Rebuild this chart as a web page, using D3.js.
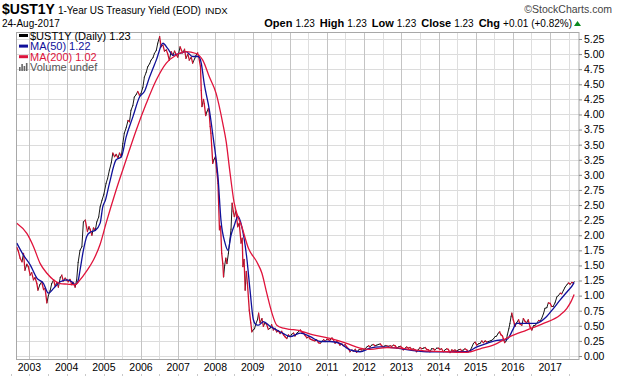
<!DOCTYPE html>
<html>
<head>
<meta charset="utf-8">
<script src="https://cdn.jsdelivr.net/npm/d3@7"></script>
<style>
  body { margin: 0; background: #fff; }
  text { font-family: "Liberation Sans", Arial, sans-serif; }
</style>
</head>
<body>
<div id="chart"></div>
<script>
// daily 1-year yield (decimal year, percent)
var priceYears = [2002.66,2002.70,2002.75,2002.80,2002.84,2002.88,2002.93,2002.97,2003.02,2003.06,2003.11,2003.15,2003.20,2003.23,2003.28,2003.33,2003.38,2003.42,2003.47,2003.51,2003.56,2003.60,2003.65,2003.69,2003.74,2003.78,2003.83,2003.87,2003.91,2003.96,2004.00,2004.05,2004.09,2004.14,2004.18,2004.23,2004.27,2004.31,2004.36,2004.41,2004.45,2004.50,2004.56,2004.60,2004.63,2004.68,2004.72,2004.77,2004.81,2004.86,2004.90,2004.95,2005.00,2005.06,2005.10,2005.15,2005.20,2005.24,2005.29,2005.33,2005.38,2005.42,2005.47,2005.51,2005.55,2005.60,2005.65,2005.69,2005.73,2005.78,2005.82,2005.87,2005.91,2005.96,2006.00,2006.05,2006.09,2006.14,2006.18,2006.23,2006.27,2006.32,2006.36,2006.41,2006.45,2006.50,2006.54,2006.59,2006.63,2006.68,2006.72,2006.76,2006.81,2006.86,2006.90,2006.94,2006.99,2007.05,2007.09,2007.12,2007.17,2007.21,2007.26,2007.30,2007.35,2007.39,2007.44,2007.48,2007.52,2007.55,2007.60,2007.62,2007.64,2007.68,2007.70,2007.74,2007.77,2007.81,2007.83,2007.86,2007.88,2007.93,2007.96,2008.00,2008.04,2008.07,2008.11,2008.14,2008.17,2008.20,2008.22,2008.25,2008.28,2008.31,2008.35,2008.38,2008.42,2008.45,2008.48,2008.51,2008.55,2008.60,2008.64,2008.69,2008.72,2008.74,2008.77,2008.80,2008.83,2008.86,2008.91,2008.95,2008.98,2009.01,2009.05,2009.09,2009.13,2009.16,2009.20,2009.25,2009.29,2009.33,2009.38,2009.42,2009.47,2009.51,2009.56,2009.60,2009.65,2009.69,2009.74,2009.78,2009.83,2009.87,2009.92,2009.96,2010.01,2010.05,2010.10,2010.14,2010.19,2010.23,2010.28,2010.32,2010.37,2010.41,2010.46,2010.50,2010.55,2010.59,2010.63,2010.68,2010.72,2010.77,2010.82,2010.86,2010.91,2010.95,2011.00,2011.04,2011.08,2011.13,2011.17,2011.22,2011.26,2011.31,2011.35,2011.40,2011.44,2011.49,2011.53,2011.58,2011.62,2011.67,2011.71,2011.76,2011.80,2011.85,2011.89,2011.93,2011.98,2012.03,2012.07,2012.12,2012.16,2012.20,2012.25,2012.29,2012.34,2012.38,2012.43,2012.47,2012.52,2012.56,2012.61,2012.65,2012.70,2012.74,2012.79,2012.83,2012.88,2012.92,2012.97,2013.01,2013.05,2013.10,2013.14,2013.19,2013.23,2013.28,2013.32,2013.37,2013.41,2013.46,2013.50,2013.55,2013.59,2013.64,2013.68,2013.73,2013.77,2013.81,2013.86,2013.90,2013.95,2013.99,2014.04,2014.08,2014.13,2014.17,2014.22,2014.26,2014.31,2014.35,2014.40,2014.44,2014.49,2014.53,2014.58,2014.62,2014.67,2014.71,2014.76,2014.80,2014.85,2014.89,2014.94,2014.98,2015.03,2015.07,2015.12,2015.16,2015.21,2015.25,2015.30,2015.34,2015.39,2015.43,2015.47,2015.52,2015.56,2015.61,2015.64,2015.68,2015.72,2015.74,2015.78,2015.82,2015.85,2015.89,2015.92,2015.95,2015.97,2016.01,2016.06,2016.10,2016.15,2016.19,2016.24,2016.28,2016.33,2016.37,2016.41,2016.46,2016.51,2016.55,2016.60,2016.64,2016.69,2016.73,2016.77,2016.82,2016.86,2016.91,2016.95,2017.00,2017.04,2017.08,2017.13,2017.18,2017.22,2017.27,2017.31,2017.36,2017.40,2017.45,2017.49,2017.54,2017.58,2017.62,2017.645];
var priceValues = [1.80,1.74,1.62,1.56,1.70,1.42,1.52,1.48,1.34,1.38,1.26,1.30,1.20,1.09,1.18,1.23,1.10,1.12,0.88,1.00,1.09,1.20,1.26,1.16,1.22,1.14,1.30,1.34,1.24,1.29,1.26,1.23,1.27,1.18,1.22,1.14,1.26,1.55,1.75,1.81,2.22,2.25,2.06,2.14,2.10,2.00,2.12,2.08,2.22,2.30,2.47,2.58,2.68,2.86,2.94,3.08,3.20,3.36,3.30,3.34,3.28,3.36,3.30,3.52,3.69,3.78,3.90,3.88,4.07,4.15,4.29,4.33,4.38,4.32,4.35,4.45,4.62,4.70,4.79,4.84,4.90,4.94,5.01,5.06,5.18,5.29,5.12,5.15,5.05,5.07,5.00,4.90,5.04,4.98,5.05,5.00,4.95,5.12,5.06,5.02,5.08,4.93,5.00,4.90,4.95,4.85,4.92,4.98,5.02,4.96,4.79,4.40,4.13,4.25,4.18,3.98,4.04,4.10,4.05,3.80,3.69,3.19,3.25,3.30,3.05,2.86,2.09,2.15,1.70,1.53,1.31,1.50,1.62,1.53,1.70,1.87,2.10,2.53,2.40,2.31,2.40,2.14,2.20,1.87,1.95,1.48,1.60,1.09,1.40,1.20,0.76,0.55,0.40,0.43,0.45,0.54,0.60,0.71,0.55,0.62,0.49,0.55,0.52,0.44,0.46,0.52,0.43,0.46,0.40,0.42,0.37,0.41,0.35,0.32,0.29,0.35,0.32,0.36,0.38,0.33,0.38,0.40,0.43,0.40,0.38,0.34,0.30,0.32,0.28,0.27,0.26,0.25,0.27,0.22,0.21,0.24,0.27,0.24,0.28,0.27,0.26,0.30,0.27,0.21,0.25,0.22,0.18,0.20,0.17,0.19,0.15,0.12,0.07,0.10,0.08,0.11,0.06,0.10,0.11,0.10,0.10,0.12,0.15,0.17,0.15,0.18,0.19,0.17,0.18,0.19,0.20,0.17,0.15,0.17,0.17,0.16,0.17,0.16,0.18,0.17,0.13,0.15,0.16,0.14,0.10,0.13,0.15,0.13,0.14,0.11,0.12,0.10,0.07,0.11,0.14,0.12,0.13,0.14,0.11,0.10,0.07,0.12,0.12,0.10,0.13,0.13,0.11,0.12,0.07,0.10,0.12,0.11,0.055,0.10,0.09,0.10,0.08,0.10,0.11,0.09,0.10,0.12,0.10,0.07,0.09,0.14,0.21,0.23,0.18,0.20,0.21,0.25,0.22,0.25,0.23,0.24,0.25,0.26,0.28,0.32,0.33,0.38,0.40,0.35,0.33,0.29,0.22,0.25,0.35,0.45,0.54,0.65,0.71,0.60,0.49,0.55,0.60,0.53,0.51,0.62,0.57,0.55,0.60,0.48,0.43,0.50,0.51,0.54,0.59,0.58,0.62,0.70,0.79,0.80,0.88,0.87,0.82,0.82,0.88,0.98,1.00,1.04,1.03,1.09,1.14,1.18,1.21,1.19,1.22,1.21,1.23];

var ma50Years = [2002.66,2002.84,2003.02,2003.20,2003.38,2003.51,2003.65,2003.83,2004.01,2004.14,2004.23,2004.31,2004.36,2004.45,2004.54,2004.63,2004.77,2004.90,2004.97,2005.04,2005.15,2005.33,2005.47,2005.60,2005.78,2005.96,2006.09,2006.23,2006.41,2006.59,2006.72,2006.86,2007.03,2007.21,2007.39,2007.55,2007.62,2007.70,2007.84,2007.95,2008.07,2008.15,2008.26,2008.34,2008.42,2008.50,2008.61,2008.71,2008.84,2008.93,2009.02,2009.09,2009.16,2009.29,2009.47,2009.65,2009.83,2010.01,2010.28,2010.55,2010.82,2011.08,2011.35,2011.62,2011.89,2012.16,2012.43,2012.88,2013.32,2013.77,2014.22,2014.76,2015.03,2015.30,2015.57,2015.83,2016.01,2016.09,2016.36,2016.63,2016.90,2017.09,2017.27,2017.45,2017.62,2017.645];
var ma50Values = [1.87,1.67,1.51,1.29,1.20,1.04,1.12,1.23,1.26,1.23,1.18,1.25,1.42,1.75,1.98,2.05,2.08,2.20,2.47,2.58,2.86,3.25,3.30,3.63,3.96,4.29,4.38,4.62,4.90,5.18,5.09,4.98,5.01,5.04,4.96,4.96,4.85,4.51,4.07,3.58,2.97,2.25,1.87,1.75,2.00,2.15,2.31,2.14,1.64,1.09,0.60,0.52,0.51,0.57,0.49,0.43,0.37,0.32,0.38,0.32,0.24,0.24,0.21,0.10,0.07,0.13,0.15,0.13,0.09,0.07,0.07,0.07,0.15,0.21,0.26,0.27,0.45,0.54,0.54,0.54,0.65,0.79,0.93,1.06,1.19,1.22];

var ma200Years = [2002.66,2002.93,2003.11,2003.29,2003.47,2003.65,2003.83,2004.01,2004.23,2004.36,2004.54,2004.72,2004.90,2005.06,2005.33,2005.60,2005.87,2006.14,2006.41,2006.68,2006.94,2007.21,2007.48,2007.66,2007.84,2008.02,2008.20,2008.29,2008.38,2008.50,2008.71,2008.89,2009.11,2009.25,2009.38,2009.52,2009.65,2009.83,2010.01,2010.19,2010.63,2011.08,2011.53,2011.89,2012.16,2012.61,2012.97,2013.32,2013.77,2014.22,2014.76,2015.12,2015.47,2015.92,2016.37,2016.82,2017.27,2017.45,2017.56,2017.645];
var ma200Values = [2.20,2.03,1.81,1.53,1.37,1.26,1.20,1.19,1.18,1.26,1.41,1.59,1.85,2.20,2.75,3.25,3.74,4.18,4.57,4.85,4.98,5.04,5.01,4.90,4.62,4.35,3.85,3.55,3.10,2.55,2.14,1.78,1.56,1.37,1.04,0.71,0.51,0.46,0.44,0.43,0.35,0.29,0.21,0.13,0.11,0.14,0.13,0.10,0.08,0.07,0.06,0.12,0.18,0.32,0.43,0.54,0.68,0.79,0.90,1.02];

var yTickValues = [0,0.25,0.5,0.75,1,1.25,1.5,1.75,2,2.25,2.5,2.75,3,3.25,3.5,3.75,4,4.25,4.5,4.75,5,5.25];
var xTickYears = [2003,2004,2005,2006,2007,2008,2009,2010,2011,2012,2013,2014,2015,2016,2017];

var plot = {left: 16.5, right: 579, top: 32.5, bottom: 359.5};

function yearToDate(t) {
    var yr = Math.floor(t);
    var a = new Date(yr, 0, 1), b = new Date(yr + 1, 0, 1);
    return new Date(+a + (t - yr) * (b - a));
}

var svg = d3.select("#chart")
    .append("svg")
    .attr("width", 620)
    .attr("height", 376);

svg.append("rect").attr("width", 620).attr("height", 376).attr("fill", "#fff");

var x = d3.scaleTime()
    .domain([new Date(2002, 7, 27), new Date(2017, 9, 11)])
    .range([plot.left, plot.right]);

var y = d3.scaleLinear()
    .domain([0, 5.25])
    .range([356, 39]);

// grid
var halfYears = xTickYears.map(function(d) { return new Date(d, 6, 1); }).concat([new Date(2002, 6, 1)]);
svg.append("g").selectAll("line")
    .data(yTickValues)
    .enter().append("line")
    .attr("x1", plot.left).attr("x2", plot.right)
    .attr("y1", function(d) { return Math.round(y(d)) + 0.5; })
    .attr("y2", function(d) { return Math.round(y(d)) + 0.5; })
    .attr("stroke", "#dcdcdc");

svg.append("g").selectAll("line")
    .data(halfYears.filter(function(d) { return x(d) > plot.left && x(d) < plot.right; }))
    .enter().append("line")
    .attr("x1", function(d) { return Math.round(x(d)) + 0.5; })
    .attr("x2", function(d) { return Math.round(x(d)) + 0.5; })
    .attr("y1", plot.top).attr("y2", plot.bottom)
    .attr("stroke", "#dedede");

svg.append("g").selectAll("line")
    .data(xTickYears)
    .enter().append("line")
    .attr("x1", function(d) { return Math.round(x(new Date(d, 0, 1))) + 0.5; })
    .attr("x2", function(d) { return Math.round(x(new Date(d, 0, 1))) + 0.5; })
    .attr("y1", plot.top).attr("y2", plot.bottom)
    .attr("stroke", "#c4c4c4");

// frame
svg.append("rect")
    .attr("x", plot.left).attr("y", plot.top)
    .attr("width", plot.right - plot.left).attr("height", plot.bottom - plot.top)
    .attr("fill", "none")
    .attr("stroke", "#a8a8a8");

// right axis
var yAxis = svg.append("g")
    .attr("transform", "translate(" + plot.right + ",0)")
    .call(d3.axisRight(y).tickValues(yTickValues).tickSize(3).tickPadding(2)
        .tickFormat(d3.format(".2f")));
yAxis.select(".domain").remove();
yAxis.selectAll("line").attr("stroke", "#888");
yAxis.selectAll("text")
    .attr("font-family", "'Liberation Sans', Arial, sans-serif")
    .attr("font-size", "10.5px")
    .attr("fill", "#000");

// bottom axis labels
svg.append("g").selectAll("text")
    .data(xTickYears)
    .enter().append("text")
    .attr("x", function(d) { return x(new Date(d, 0, 1)); })
    .attr("y", 371)
    .attr("text-anchor", "middle")
    .attr("font-size", "10.5px")
    .text(function(d) { return d; });

svg.append("g").selectAll("line")
    .data(xTickYears.map(function(d) { return new Date(d, 0, 1); }).concat(halfYears))
    .enter().append("line")
    .attr("x1", function(d) { return Math.round(x(d)) + 0.5; })
    .attr("x2", function(d) { return Math.round(x(d)) + 0.5; })
    .attr("y1", 374).attr("y2", 376)
    .attr("stroke", "#c8c8c8");

// series
var price = priceYears.map(function(d, i) { return {date: yearToDate(d), value: priceValues[i]}; });
var ma50 = ma50Years.map(function(d, i) { return {date: yearToDate(d), value: ma50Values[i]}; });
var ma200 = ma200Years.map(function(d, i) { return {date: yearToDate(d), value: ma200Values[i]}; });

svg.append("clipPath").attr("id", "clip")
    .append("rect")
    .attr("x", plot.left).attr("y", plot.top)
    .attr("width", plot.right - plot.left).attr("height", plot.bottom - plot.top);

var series = svg.append("g").attr("clip-path", "url(#clip)");

// price: black on up moves, red on down moves (red drawn last so it dominates)
var segs = price.slice(1).map(function(d, i) { return {a: price[i], b: d, up: d.value >= price[i].value}; });
segs.sort(function(p, q) { return (q.up ? 1 : 0) - (p.up ? 1 : 0); });

series.append("g").selectAll("line")
    .data(segs)
    .enter().append("line")
    .attr("x1", function(d) { return x(d.a.date); })
    .attr("y1", function(d) { return y(d.a.value); })
    .attr("x2", function(d) { return x(d.b.date); })
    .attr("y2", function(d) { return y(d.b.value); })
    .attr("stroke", function(d) { return d.up ? "#1a1a1a" : "#d0102e"; })
    .attr("stroke-width", function(d) { return d.up ? 1 : 1.3; })
    .attr("stroke-linecap", "round");

var line = d3.line()
    .x(function(d) { return x(d.date); })
    .y(function(d) { return y(d.value); })
    .curve(d3.curveMonotoneX);

series.append("path")
    .datum(ma50)
    .attr("d", line)
    .attr("fill", "none")
    .attr("stroke", "#10109a")
    .attr("stroke-width", 1.3);

series.append("path")
    .datum(ma200)
    .attr("d", line)
    .attr("fill", "none")
    .attr("stroke", "#e0143c")
    .attr("stroke-width", 1.3);

// legend
var legendItems = [
    {label: "$UST1Y (Daily) 1.23", color: "#000"},
    {label: "MA(50) 1.22", color: "#10109a"},
    {label: "MA(200) 1.02", color: "#dc143c"}
];
var legend = svg.append("g");
legend.selectAll("rect")
    .data(legendItems)
    .enter().append("rect")
    .attr("x", 19).attr("y", function(d, i) { return 34 + i * 10.6; })
    .attr("width", 9).attr("height", 3)
    .attr("fill", function(d) { return d.color; });
legend.selectAll("text")
    .data(legendItems.concat([{label: "Volume undef", color: "#555"}]))
    .enter().append("text")
    .attr("x", 30).attr("y", function(d, i) { return 39.5 + i * 10.6; })
    .attr("font-size", "11px")
    .attr("font-family", "'DejaVu Sans', Verdana, sans-serif")
    .attr("fill", function(d) { return d.color; })
    .text(function(d) { return d.label; });
var volBars = [4, 7, 5, 8];
legend.selectAll(".vb")
    .data(volBars)
    .enter().append("rect")
    .attr("x", function(d, i) { return 19 + i * 2.3; })
    .attr("y", function(d) { return 71 - d; })
    .attr("width", 1.6)
    .attr("height", function(d) { return d; })
    .attr("fill", "#666");

// header
var head = svg.append("text").attr("x", 2).attr("y", 14);
head.append("tspan").attr("font-weight", "bold").attr("font-size", "14px").text("$UST1Y");
head.append("tspan").attr("dx", 3).attr("font-size", "10px").text("1-Year US Treasury Yield (EOD)");
head.append("tspan").attr("dx", 4).attr("font-size", "9.5px").text("INDX");

svg.append("text")
    .attr("x", 612).attr("y", 13)
    .attr("text-anchor", "end")
    .attr("font-size", "10.5px")
    .attr("fill", "#444")
    .text("\u00a9StockCharts.com");

svg.append("text")
    .attr("x", 2).attr("y", 27)
    .attr("font-size", "10px")
    .text("24-Aug-2017");

var quote = [["Open", "1.23"], ["High", "1.23"], ["Low", "1.23"], ["Close", "1.23"], ["Chg", "+0.01 (+0.82%)"]];
var q = svg.append("text").attr("x", 572).attr("y", 27).attr("text-anchor", "end");
quote.forEach(function(d, i) {
    q.append("tspan").attr("dx", i ? 5 : 0).attr("font-weight", "bold").attr("font-size", "11px").text(d[0]);
    q.append("tspan").attr("dx", 3).attr("font-size", "10px").text(d[1]);
});
svg.append("path")
    .attr("d", "M574,26 L581,26 L577.5,21 Z")
    .attr("fill", "#0a8a1e");
</script>
</body>
</html>
